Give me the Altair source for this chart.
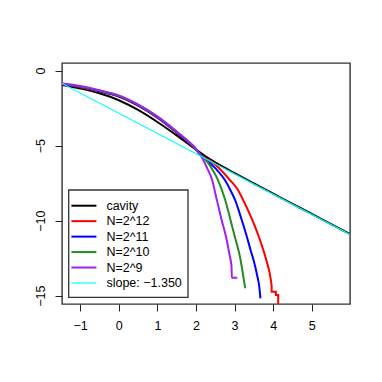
import altair as alt
import pandas as pd

# ---- data ----
cav_x = [-1.47, -1.0, -0.5, 0.0, 0.5, 1.0, 1.5, 2.0, 2.3, 2.6, 3.0, 3.5, 4.0, 4.5, 5.0, 5.5, 5.99]
cav_y = [-0.95, -1.19, -1.51, -1.97, -2.62, -3.42, -4.31, -5.25, -5.79, -6.26, -6.83, -7.52, -8.2, -8.88, -9.55, -10.23, -10.9]

n12_x = [-1.47, -1.0, -0.5, 0.0, 0.5, 1.0, 1.5, 1.8, 2.0, 2.1, 2.4, 2.6, 2.88, 3.1, 3.2, 3.4, 3.53, 3.7, 3.83, 3.93, 3.96, 3.96, 4.07, 4.07, 4.13, 4.13]
n12_y = [-0.92, -1.1, -1.38, -1.73, -2.33, -3.13, -4.13, -4.78, -5.26, -5.56, -6.05, -6.5, -7.29, -8.0, -8.5, -9.6, -10.4, -11.6, -12.7, -13.8, -14.4, -14.73, -14.73, -14.95, -14.95, -15.7]

n11_x = [-1.47, -1.0, -0.5, 0.0, 0.5, 1.0, 1.5, 1.8, 2.0, 2.1, 2.3, 2.5, 2.75, 2.9, 3.01, 3.18, 3.3, 3.42, 3.5, 3.59, 3.64, 3.67]
n11_y = [-0.9, -1.08, -1.36, -1.71, -2.31, -3.11, -4.11, -4.76, -5.25, -5.57, -6.0, -6.5, -7.29, -8.0, -8.6, -9.9, -10.9, -12.0, -12.7, -13.7, -14.4, -15.17]

n10_x = [-1.47, -1.0, -0.5, 0.0, 0.5, 1.0, 1.5, 1.8, 2.0, 2.1, 2.3, 2.45, 2.57, 2.75, 2.88, 3.01, 3.14, 3.22, 3.25, 3.28]
n10_y = [-0.88, -1.06, -1.33, -1.68, -2.28, -3.08, -4.08, -4.73, -5.23, -5.58, -6.1, -6.7, -7.29, -8.55, -9.8, -11.1, -12.4, -13.6, -14.1, -14.5]

n9_x = [-1.47, -1.0, -0.5, 0.0, 0.5, 1.0, 1.5, 1.8, 2.0, 2.1, 2.2, 2.3, 2.42, 2.53, 2.66, 2.79, 2.88, 2.92, 2.93, 3.07]
n9_y = [-0.85, -1.02, -1.3, -1.65, -2.25, -3.05, -4.05, -4.7, -5.2, -5.58, -6.0, -6.55, -7.29, -8.5, -9.9, -11.2, -12.4, -13.0, -13.8, -13.8]

slope_x = [-1.47, 5.99]
slope_y = [-0.85, -10.92]

labels = ["cavity", "N=2^12", "N=2^11", "N=2^10", "N=2^9", "slope: \u22121.350"]
colors = ["#000000", "#FF0000", "#0000FF", "#228B22", "#A020F0", "#00FFFF"]
widths = [2, 2, 2, 2, 2, 1.2]

x_ticks = [-1, 0, 1, 2, 3, 4, 5]
y_ticks = [0, -5, -10, -15]
x_domain = [-1.47, 5.99]
y_domain = [-15.55, 0.51]

W, H = 288, 241
FONT = "Liberation Sans"

series = [(cav_x, cav_y), (n12_x, n12_y), (n11_x, n11_y), (n10_x, n10_y), (n9_x, n9_y), (slope_x, slope_y)]

xs = alt.Scale(domain=x_domain, nice=False, zero=False)
ys = alt.Scale(domain=y_domain, nice=False, zero=False)

layers = []
for k, ((sx, sy), col, lw) in enumerate(zip(series, colors, widths)):
    df = pd.DataFrame({"x": sx, "y": sy, "i": list(range(len(sx)))})
    xenc = alt.X("x:Q", scale=xs, axis=alt.Axis(values=x_ticks, title=None, tickSize=7,
                                              labelPadding=8, grid=False, domain=False,
                                              tickColor="#222", labelColor="#000",
                                              labelFont=FONT, labelFontSize=12.5, labelFlush=False))
    yenc = alt.Y("y:Q", scale=ys, axis=alt.Axis(values=y_ticks, title=None, tickSize=7,
                                              labelPadding=8, grid=False, domain=False,
                                              labelAngle=270, labelAlign="center", labelBaseline="bottom",
                                              tickColor="#222", labelColor="#000",
                                              labelFont=FONT, labelFontSize=12.5, labelFlush=False))
    layers.append(
        alt.Chart(df).mark_line(color=col, strokeWidth=lw, clip=True, interpolate="monotone").encode(
            x=xenc, y=yenc, order="i:Q"
        )
    )

# legend (layout only)
box = alt.Chart(pd.DataFrame({"a": [0]})).mark_rect(fill="white", stroke="#333", strokeWidth=1.3).encode(
    x=alt.value(6.7), x2=alt.value(126), y=alt.value(127), y2=alt.value(234.3)
)
layers.append(box)
for i, (lab, col, lw) in enumerate(zip(labels, colors, widths)):
    yy = 142.7 + i * 15.46
    d = pd.DataFrame({"label": [lab]})
    layers.append(alt.Chart(d).mark_rule(color=col, strokeWidth=lw).encode(
        x=alt.value(9.4), x2=alt.value(34.4), y=alt.value(yy)))
    layers.append(alt.Chart(d).mark_text(align="left", baseline="middle", font=FONT,
                                         fontSize=12.5, color="#000").encode(
        x=alt.value(44.4), y=alt.value(yy), text="label:N"))

chart = alt.layer(*layers).properties(
    width=W, height=H,
    background="white",
    autosize=alt.AutoSizeParams(type="none"),
    padding={"left": 54, "top": 55, "right": 20, "bottom": 50},
).configure_view(stroke="#333", strokeWidth=1.4)

chart.save("out.html", embed_options={"renderer": "svg", "actions": False})
